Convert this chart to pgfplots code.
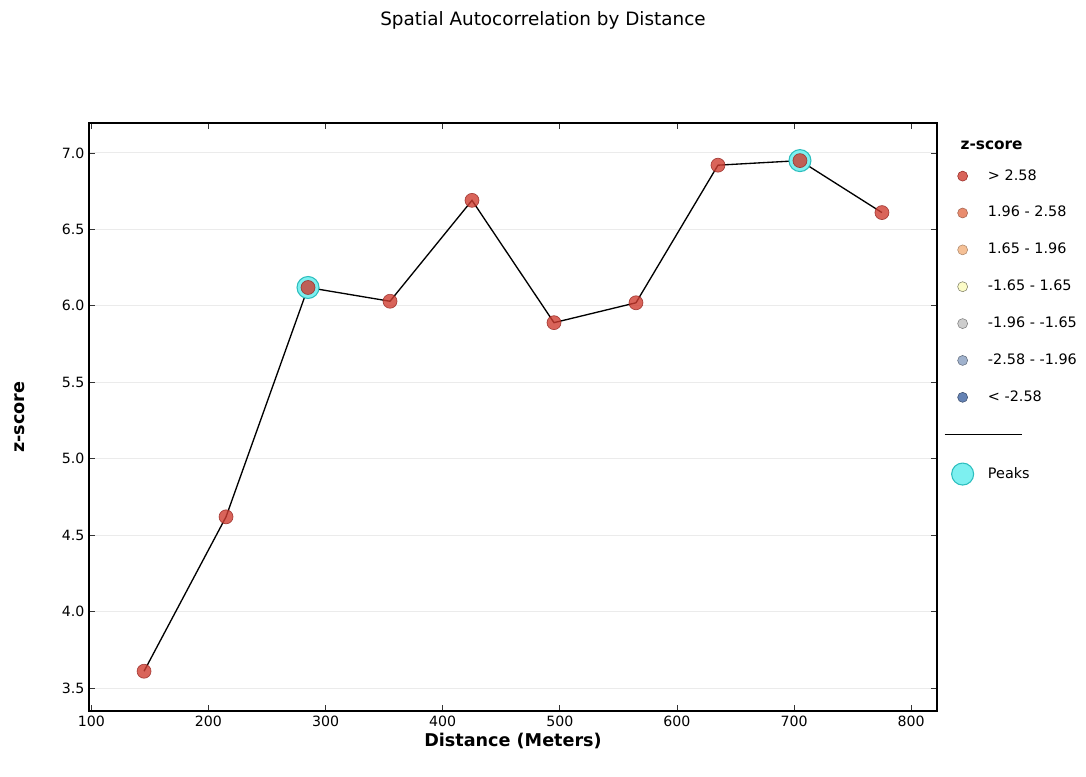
\documentclass[border=0pt]{standalone}
\usepackage{fontspec}
\setmainfont{DejaVu Sans}
\usepackage{pgfplots}
\usepackage{pgfplotstable}
\pgfplotsset{compat=1.18}

\definecolor{hot}{RGB}{207,61,49}
\definecolor{hotedge}{RGB}{150,40,35}
\definecolor{c2}{RGB}{233,140,110}
\definecolor{c3}{RGB}{245,192,150}
\definecolor{c4}{RGB}{252,252,200}
\definecolor{c5}{RGB}{205,205,205}
\definecolor{c6}{RGB}{160,178,205}
\definecolor{c7}{RGB}{100,130,180}
\definecolor{peakfill}{RGB}{125,240,240}
\definecolor{peakedge}{RGB}{45,190,190}
\definecolor{gridc}{RGB}{235,235,235}

\pgfplotstableread{
dist z
145 3.61
215 4.62
285 6.12
355 6.03
425 6.69
495 5.89
565 6.02
635 6.92
705 6.95
775 6.61
}\zdata

\pgfplotstableread{
dist z
285 6.12
705 6.95
}\peakdata

\begin{document}
\begin{tikzpicture}
\path[use as bounding box] (0,0) rectangle (814.5pt,582.75pt);
\begin{axis}[
  at={(66.75pt,49.5pt)}, anchor=south west,
  scale only axis, width=636pt, height=441pt,
  xmin=98, xmax=822, ymin=3.35, ymax=7.196,
  xtick={100,200,...,800}, ytick={3.5,4.0,4.5,5.0,5.5,6.0,6.5,7.0},
  yticklabel style={/pgf/number format/fixed, /pgf/number format/fixed zerofill, /pgf/number format/precision=1},
  /pgf/number format/assume math mode=true,
  tick align=inside, major tick length=4.5pt,
  tick style={black!80, line width=0.6pt},
  ymajorgrids, grid style={gridc, line width=0.75pt},
  axis line style={line width=1pt},
  tick label style={font=\fontsize{10.6}{12}\selectfont},
  every axis title shift=0pt,
  title={Spatial Autocorrelation by Distance},
  title style={at={(axis description cs:0.5,1)}, anchor=center, yshift=77.25pt, xshift=22.5pt, font=\fontsize{13.8}{15}\selectfont},
  xlabel={\textbf{Distance (Meters)}},
  xlabel style={at={(axis description cs:0.5,0)}, anchor=center, yshift=-22.5pt, font=\fontsize{13.2}{15}\selectfont},
  ylabel={\textbf{z-score}},
  ylabel style={at={(axis description cs:-0.0814,0.5)}, anchor=center, font=\fontsize{13.2}{15}\selectfont},
  legend style={at={(axis description cs:1,1)}, anchor=north west, xshift=7.5pt, yshift=-4pt,
    draw=none, fill=none, row sep=15.65pt, column sep=9.75pt,
    font=\fontsize{10.8}{12}\selectfont,
    nodes={text height=8pt, text depth=2pt, inner sep=1pt}},
  legend cell align=left,
]
\addplot[forget plot, only marks, mark=*, mark size=8.25pt, mark options={fill=peakfill, draw=peakedge, line width=0.8pt}] table {\peakdata};
\addplot[forget plot, black, line width=1pt] table {\zdata};
\addplot[forget plot, only marks, mark=*, mark size=5.25pt, mark options={fill=hot, fill opacity=0.8, draw=hotedge, draw opacity=0.8, line width=0.5pt}] table {\zdata};

\addlegendimage{empty legend}
\addlegendentry{\hspace*{-20.5pt}\smash{\raisebox{-4.5pt}{\fontsize{11.5}{13}\selectfont\textbf{z-score}}}}
\addlegendimage{only marks, mark=*, mark size=3.75pt, mark options={fill=hot, fill opacity=0.8, draw=hotedge, line width=0.4pt}}
\addlegendentry{> 2.58}
\addlegendimage{only marks, mark=*, mark size=3.75pt, mark options={fill=c2, draw=c2!70!black, line width=0.4pt}}
\addlegendentry{1.96 - 2.58}
\addlegendimage{only marks, mark=*, mark size=3.75pt, mark options={fill=c3, draw=c3!70!black, line width=0.4pt}}
\addlegendentry{1.65 - 1.96}
\addlegendimage{only marks, mark=*, mark size=3.75pt, mark options={fill=c4, draw=c4!50!black, line width=0.4pt}}
\addlegendentry{-1.65 - 1.65}
\addlegendimage{only marks, mark=*, mark size=3.75pt, mark options={fill=c5, draw=c5!60!black, line width=0.4pt}}
\addlegendentry{-1.96 - -1.65}
\addlegendimage{only marks, mark=*, mark size=3.75pt, mark options={fill=c6, draw=c6!60!black, line width=0.4pt}}
\addlegendentry{-2.58 - -1.96}
\addlegendimage{only marks, mark=*, mark size=3.75pt, mark options={fill=c7, draw=c7!60!black, line width=0.4pt}}
\addlegendentry{< -2.58}
\addlegendimage{legend image code/.code={\draw[overlay, black, line width=1pt] (-4.96pt,0pt) -- (52.8pt,0pt);}}
\addlegendentry{}
\addlegendimage{only marks, mark=*, mark size=8.25pt, mark options={fill=peakfill, draw=peakedge, line width=0.8pt}}
\addlegendentry{Peaks}
\end{axis}
\end{tikzpicture}
\end{document}
